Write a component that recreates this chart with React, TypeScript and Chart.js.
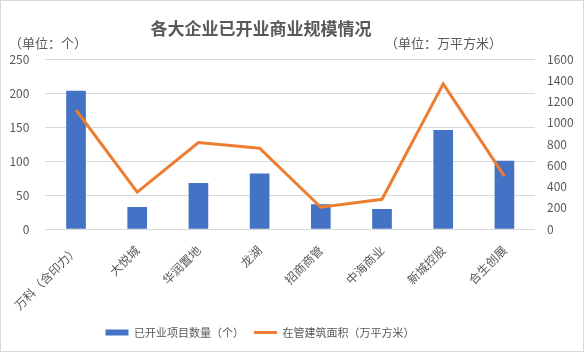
import React, { useEffect, useRef } from "react";
import { Chart, registerables } from "chart.js";

Chart.register(...registerables);

const categories = ["万科（含印力）", "大悦城", "华润置地", "龙湖", "招商商管", "中海商业", "新城控股", "合生创展"];
const openedProjects = [203, 32, 67, 81, 36, 29, 145, 100];
const managedArea = [1120, 347, 814, 760, 205, 280, 1366, 498];
const leftTicks = [0, 50, 100, 150, 200, 250];
const rightTicks = [0, 200, 400, 600, 800, 1000, 1200, 1400, 1600];
const titleText = "各大企业已开业商业规模情况";
const leftUnit = "（单位：个）";
const rightUnit = "（单位：万平方米）";
const seriesNames = ["已开业项目数量（个）", "在管建筑面积（万平方米）"];

const FONT = "'Noto Sans CJK SC', 'Noto Sans', sans-serif";
const GRAY = "#595959";
const BLUE = "#4472C4";
const ORANGE = "#ED7D31";

export default function App() {
  const ref = useRef<HTMLCanvasElement | null>(null);

  useEffect(() => {
    document.body.style.margin = "0";
    const canvas = ref.current;
    if (!canvas) return;

    const decor = {
      id: "decor",
      afterLayout(chart: any) {
        const lg = chart.legend;
        if (lg) {
          lg.left -= 32;
          lg.right -= 32;
        }
      },
      afterDraw(chart: any) {
        const ctx = chart.ctx;
        ctx.save();
        ctx.strokeStyle = "#d9d9d9";
        ctx.lineWidth = 1;
        ctx.strokeRect(0.5, 0.5, chart.width - 1, chart.height - 1);
        ctx.fillStyle = GRAY;
        ctx.textBaseline = "middle";
        ctx.font = `bold 17px ${FONT}`;
        ctx.textAlign = "center";
        ctx.fillText(titleText, 261, 29);
        ctx.font = `13px ${FONT}`;
        ctx.textAlign = "left";
        ctx.fillText(leftUnit, 9, 43);
        ctx.textAlign = "right";
        ctx.fillText(rightUnit, 502, 43);
        ctx.restore();
      },
    };

    const chart = new Chart(canvas, {
      type: "bar",
      data: {
        labels: categories,
        datasets: [
          {
            type: "bar",
            label: seriesNames[0],
            data: openedProjects,
            backgroundColor: BLUE,
            barThickness: 19,
            yAxisID: "y",
            order: 1,
          },
          {
            type: "line",
            label: seriesNames[1],
            data: managedArea,
            borderColor: ORANGE,
            backgroundColor: ORANGE,
            borderWidth: 3,
            pointRadius: 0,
            tension: 0,
            yAxisID: "y1",
            order: 0,
          } as any,
        ],
      },
      options: {
        animation: false,
        responsive: false,
        devicePixelRatio: 1,
        layout: { padding: { top: 59, bottom: 4, left: 0, right: 0 } },
        plugins: {
          tooltip: { enabled: false },
          title: { display: false },
          legend: {
            position: "bottom",
            labels: {
              color: GRAY,
              font: { family: FONT, size: 11 },
              usePointStyle: true,
              pointStyleWidth: 23,
              boxHeight: 6,
              padding: 10,
              generateLabels: () => [
                {
                  text: seriesNames[0],
                  fillStyle: BLUE,
                  strokeStyle: BLUE,
                  lineWidth: 0,
                  pointStyle: "rect",
                  fontColor: GRAY,
                  datasetIndex: 0,
                  hidden: false,
                },
                {
                  text: seriesNames[1],
                  fillStyle: ORANGE,
                  strokeStyle: ORANGE,
                  lineWidth: 3,
                  pointStyle: "line",
                  fontColor: GRAY,
                  datasetIndex: 1,
                  hidden: false,
                },
              ] as any,
            },
          },
        },
        scales: {
          x: {
            grid: { display: false, drawTicks: false },
            border: { display: false },
            ticks: {
              color: GRAY,
              font: { family: FONT, size: 12 },
              maxRotation: 45,
              minRotation: 45,
              padding: 14,
              autoSkip: false,
            },
            afterFit: (s: any) => {
              s.height = 88;
            },
          },
          y: {
            position: "left",
            min: 0,
            max: 250,
            afterBuildTicks: (s: any) => {
              s.ticks = leftTicks.map((v) => ({ value: v }));
            },
            grid: { color: "#d9d9d9", drawTicks: false, lineWidth: 1 },
            border: { display: false },
            ticks: {
              color: GRAY,
              font: { family: FONT, size: 12 },
              padding: 16,
              callback: (v: any) => String(v),
            },
            afterFit: (s: any) => {
              s.width = 42;
            },
          },
          y1: {
            position: "right",
            min: 0,
            max: 1600,
            afterBuildTicks: (s: any) => {
              s.ticks = rightTicks.map((v) => ({ value: v }));
            },
            grid: { display: false, drawTicks: false },
            border: { display: false },
            ticks: {
              color: GRAY,
              font: { family: FONT, size: 12 },
              padding: 12,
              callback: (v: any) => String(v),
            },
            afterFit: (s: any) => {
              s.width = 49;
            },
          },
        },
      },
      plugins: [decor],
    });

    return () => chart.destroy();
  }, []);

  return <canvas ref={ref} width={584} height={352} style={{ display: "block" }} />;
}
